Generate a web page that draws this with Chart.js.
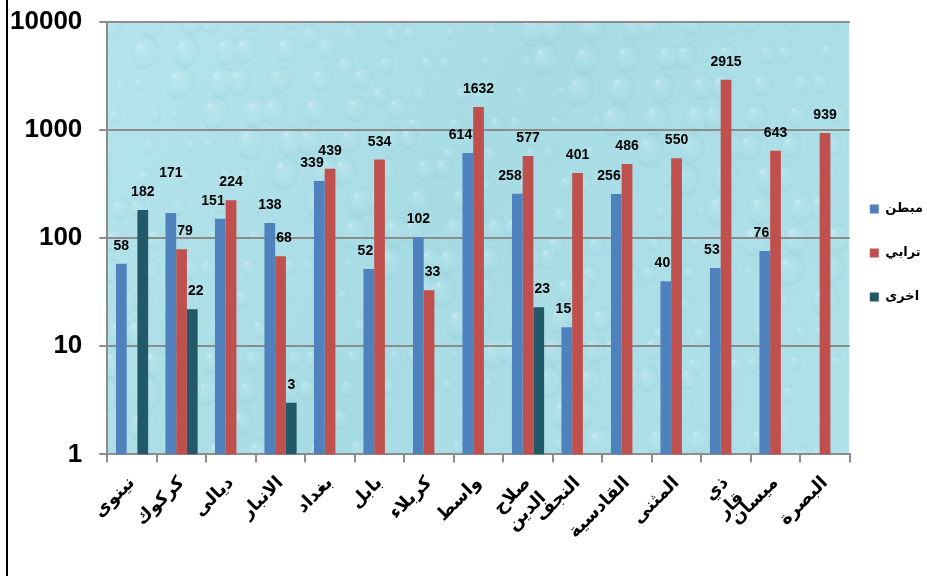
<!DOCTYPE html>
<html>
<head>
<meta charset="utf-8">
<script src="https://cdn.jsdelivr.net/npm/chart.js@4"></script>
<style>
  html, body { margin: 0; padding: 0; background: #ffffff; }
  #wrap { position: relative; width: 927px; height: 576px; }
  #wrap::before { content: ''; position: absolute; left: 6px; top: 0; width: 2px; height: 576px; background: #000; }
  canvas { display: block; }
</style>
</head>
<body>
<div id="wrap"><canvas id="chart" width="927" height="576"></canvas></div>
<script>
// Provinces (category axis)
const provinces = ['نينوى', 'كركوك', 'ديالى', 'الانبار', 'بغداد', 'بابل', 'كربلاء', 'واسط',
  ['صلاح', 'الدين'], 'النجف', 'القادسية', 'المثنى', ['ذي', 'قار'], 'ميسان', 'البصرة'];

// Series
const seriesNames = ['مبطن', 'ترابي', 'اخرى'];
const linedValues   = [58, 171, 151, 138, 339, 52, 102, 614, 258, 15, 256, 40, 53, 76, null];
const earthenValues = [null, 79, 224, 68, 439, 534, 33, 1632, 577, 401, 486, 550, 2915, 643, 939];
const otherValues   = [182, 22, null, 3, null, null, null, null, 23, null, null, null, null, null, null];

// Value axis ticks (log scale)
const yTickValues = [1, 10, 100, 1000, 10000];

const seriesColors = ['#4F81BD', '#C0504D', '#215968'];
const gridGray = '#8c8c8c';
const arabicFont = '"DejaVu Sans", "Liberation Sans", sans-serif';
const latinFont = '"Liberation Sans", Arial, sans-serif';

// Watery plot-area background: gradient with soft droplets
function buildBackdrop(w, h) {
  const c = document.createElement('canvas');
  c.width = w; c.height = h;
  const g = c.getContext('2d');
  const lin = g.createLinearGradient(0, 0, w, h);
  lin.addColorStop(0, '#b6e4ec');
  lin.addColorStop(0.45, '#a8dce5');
  lin.addColorStop(1, '#b0e1e9');
  g.fillStyle = lin;
  g.fillRect(0, 0, w, h);
  let k = 0;
  for (let row = 0; row * 30 < h + 40; row++) {
    for (let col = 0; col * 34 < w + 40; col++) {
      k++;
      const cx = col * 34 + ((row * 17 + k * 7) % 23) - 4;
      const cy = row * 30 + ((col * 13 + k * 5) % 19) - 4;
      const r = 6 + ((k * 11) % 12);
      const rg = g.createRadialGradient(cx - r * 0.3, cy - r * 0.35, r * 0.1, cx, cy, r);
      rg.addColorStop(0, 'rgba(235,250,252,0.2)');
      rg.addColorStop(0.6, 'rgba(190,235,242,0.05)');
      rg.addColorStop(1, 'rgba(80,155,175,0.12)');
      g.fillStyle = rg;
      g.beginPath();
      g.ellipse(cx, cy, r * 0.8, r, 0.3, 0, Math.PI * 2);
      g.fill();
      g.fillStyle = 'rgba(255,255,255,0.25)';
      g.beginPath();
      g.ellipse(cx - r * 0.3, cy - r * 0.45, r * 0.16, r * 0.1, -0.6, 0, Math.PI * 2);
      g.fill();
    }
  }
  return c;
}

const plotBackground = {
  id: 'plotBackground',
  beforeDraw(chart) {
    const a = chart.chartArea;
    const w = Math.round(a.right - a.left), h = Math.round(a.bottom - a.top);
    if (!chart.$backdrop || chart.$backdrop.width !== w || chart.$backdrop.height !== h) {
      chart.$backdrop = buildBackdrop(w, h);
    }
    chart.ctx.drawImage(chart.$backdrop, a.left, a.top);
  }
};

// Move the legend column up and closer to the plot
const legendNudge = {
  id: 'legendNudge',
  afterLayout(chart) {
    const lg = chart.legend;
    if (lg) {
      lg.top -= 42; lg.bottom -= 42;
      lg.left -= 11; lg.right -= 11;
    }
  }
};

// Value labels above each bar, kept clear of taller neighbours and of each other
const barValueLabels = {
  id: 'barValueLabels',
  afterDatasetsDraw(chart) {
    const ctx = chart.ctx;
    ctx.save();
    ctx.font = 'bold 14px ' + latinFont;
    ctx.fillStyle = '#000';
    ctx.textAlign = 'center';
    ctx.textBaseline = 'alphabetic';
    const placed = [];
    const th = 11;
    const count = chart.data.labels.length;
    for (let i = 0; i < count; i++) {
      const bars = chart.data.datasets.map((ds, d) => {
        const v = ds.data[i];
        if (v === null || v === undefined) return null;
        const el = chart.getDatasetMeta(d).data[i];
        return { v, x: el.x, y: el.y, w: el.width };
      });
      bars.forEach((b, k) => {
        if (!b) return;
        const text = String(b.v);
        const tw = ctx.measureText(text).width;
        let cx = b.x;
        let base = b.y - 14;
        const left = bars[k - 1], right = bars[k + 1];
        if (right && right.y < base + 6) cx = Math.min(cx, right.x - right.w / 2 - tw / 2 - 1);
        if (left && left.y < base + 6) cx = Math.max(cx, left.x + left.w / 2 + tw / 2 + 1);
        const rect = { l: cx - tw / 2, r: cx + tw / 2, t: base - th, b: base };
        let moved = true;
        while (moved) {
          moved = false;
          for (const p of placed) {
            if (rect.l < p.r + 8 && rect.r > p.l - 8 && rect.t < p.b && rect.b > p.t) {
              base = p.t - 8;
              rect.t = base - th; rect.b = base;
              moved = true;
            }
          }
        }
        placed.push(rect);
        ctx.fillText(text, cx, base);
      });
    }
    ctx.restore();
  }
};

const seriesData = [linedValues, earthenValues, otherValues];

new Chart(document.getElementById('chart'), {
  type: 'bar',
  data: {
    labels: provinces,
    datasets: seriesNames.map((name, i) => ({
      label: name,
      data: seriesData[i],
      backgroundColor: seriesColors[i],
      borderColor: seriesColors[i],
      borderWidth: 0,
      categoryPercentage: 0.65,
      barPercentage: 1.0
    }))
  },
  options: {
    responsive: false,
    animation: false,
    devicePixelRatio: 1,
    layout: { padding: { left: 10, top: 22, right: -17, bottom: 8 } },
    plugins: {
      tooltip: { enabled: false },
      legend: {
        position: 'right',
        align: 'center',
        labels: {
          boxWidth: 9,
          boxHeight: 9,
          padding: 31,
          color: '#000',
          font: { family: arabicFont, size: 13, weight: 'bold' }
        }
      }
    },
    scales: {
      x: {
        afterFit(scale) { scale.paddingLeft = 0; scale.paddingRight = 0; },
        grid: { offset: true, drawOnChartArea: false, drawTicks: true, tickLength: 8, color: gridGray, lineWidth: 2 },
        border: { display: true, color: gridGray, width: 2 },
        ticks: {
          minRotation: 45,
          maxRotation: 45,
          autoSkip: false,
          padding: 10,
          color: '#000',
          font: { family: arabicFont, size: 18, weight: 'bold' }
        }
      },
      y: {
        type: 'logarithmic',
        min: 1,
        max: 10000,
        afterBuildTicks(axis) {
          axis.ticks = yTickValues.map(v => ({ value: v, major: true }));
        },
        afterFit(scale) {
          scale.paddingTop = 0; scale.paddingBottom = 0;
          scale.width -= scale.options.ticks.padding;
        },
        grid: { color: gridGray, lineWidth: 2, drawTicks: true, tickLength: 8 },
        border: { display: true, color: gridGray, width: 2 },
        ticks: {
          padding: 17,
          color: '#000',
          font: { family: latinFont, size: 26, weight: 'bold' },
          callback: v => String(v)
        }
      }
    }
  },
  plugins: [plotBackground, legendNudge, barValueLabels]
});
</script>
</body>
</html>
